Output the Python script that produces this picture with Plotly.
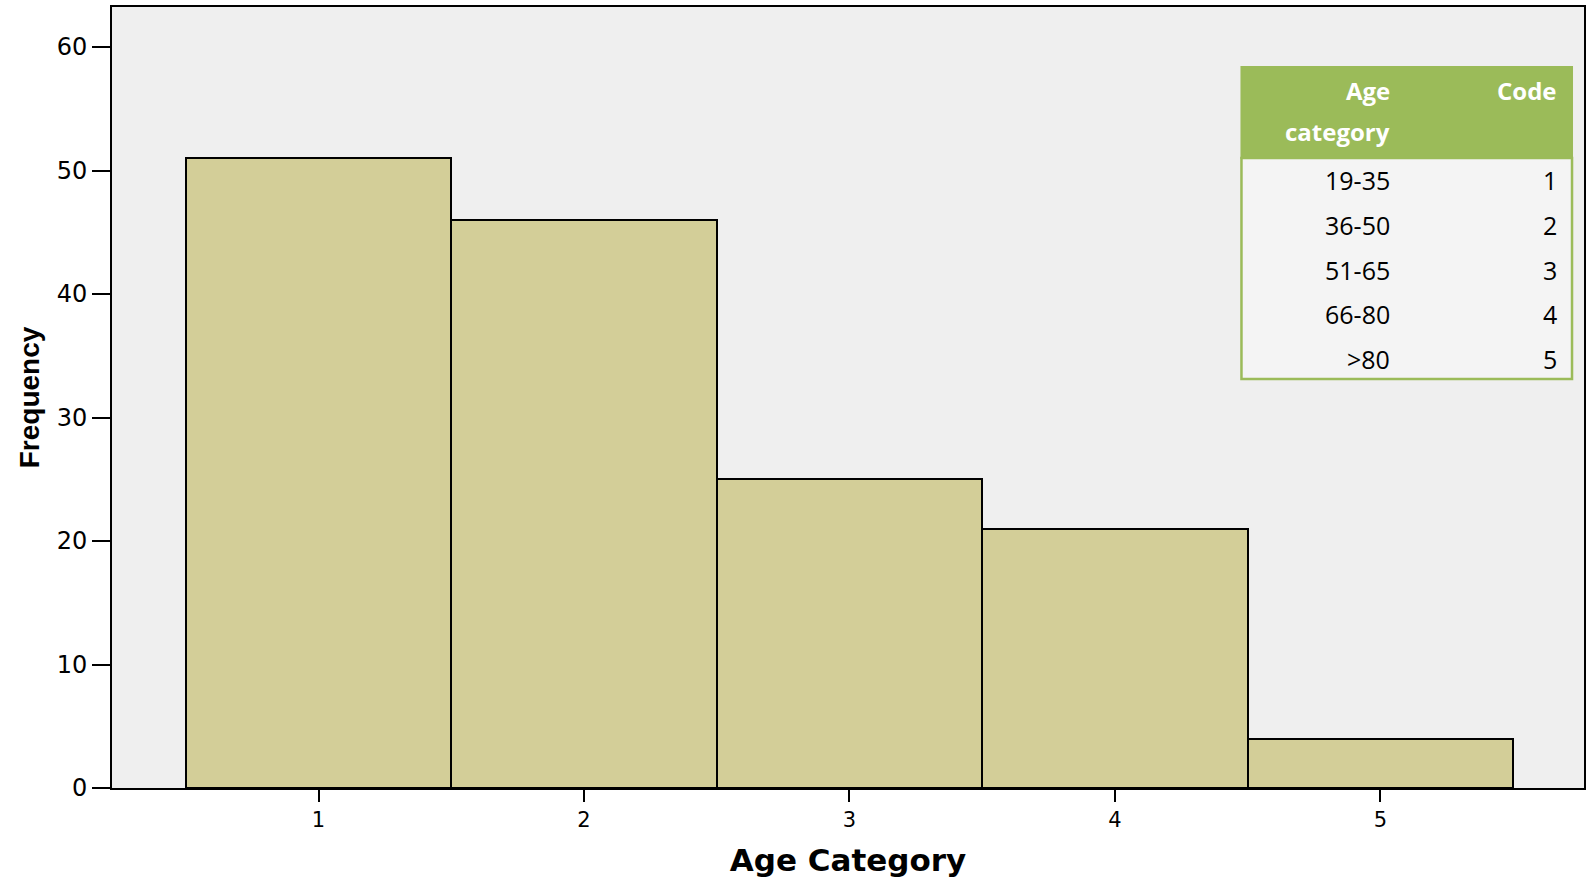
import plotly.graph_objects as go

codes = [1, 2, 3, 4, 5]
frequency = [51, 46, 25, 21, 4]
age_ranges = ["19-35", "36-50", "51-65", "66-80", ">80"]
table_header = ["Age", "category"]
code_header = "Code"
y_ticks = [0, 10, 20, 30, 40, 50, 60]

W, H = 1589, 878
ml, mr, mt, mb = 112, 3, 7, 90
pw, ph = W - ml - mr, H - mt - mb

def px_x(p):
    return (p - ml) / pw

def px_y(p):
    return (H - mb - p) / ph

fig = go.Figure()
fig.add_trace(go.Bar(
    x=codes, y=frequency, width=1,
    marker=dict(color="#d3ce98", line=dict(color="black", width=2)),
    showlegend=False, hoverinfo="x+y"))

# ---- inset table (Age category -> Code) ----
green = "#9bbb59"
tx0, tx1, ty0, ty_h, ty1 = 1243, 1574, 67, 158, 379
col1_right, col2_right = 1394, 1561
shapes = [
    dict(type="rect", xref="paper", yref="paper", layer="above",
         x0=px_x(tx0), x1=px_x(tx1), y0=px_y(ty1), y1=px_y(ty_h),
         fillcolor="#f4f4f4", line=dict(color=green, width=2.5)),
    dict(type="rect", xref="paper", yref="paper", layer="above",
         x0=px_x(tx0), x1=px_x(tx1), y0=px_y(ty_h), y1=px_y(ty0),
         fillcolor=green, line=dict(color=green, width=2)),
]
annotations = []
tfont = dict(family="Open Sans", size=25, color="black")
hfont = dict(family="Open Sans", size=24, color="white", weight="bold")
for txt, yc in zip(table_header, [90, 131]):
    annotations.append(dict(text=txt, x=px_x(col1_right), y=px_y(yc), xref="paper", yref="paper",
                            xanchor="right", yanchor="middle", showarrow=False, font=hfont))
annotations.append(dict(text=code_header, x=px_x(col2_right), y=px_y(90), xref="paper", yref="paper",
                        xanchor="right", yanchor="middle", showarrow=False, font=hfont))
for i, (rng, c) in enumerate(zip(age_ranges, codes)):
    yc = 180 + i * 44.8
    annotations.append(dict(text=rng.replace(">", "&gt;"), x=px_x(col1_right), y=px_y(yc),
                            xref="paper", yref="paper", xanchor="right", yanchor="middle",
                            showarrow=False, font=tfont))
    annotations.append(dict(text=str(c), x=px_x(col2_right), y=px_y(yc),
                            xref="paper", yref="paper", xanchor="right", yanchor="middle",
                            showarrow=False, font=tfont))

fig.update_layout(
    width=W, height=H,
    margin=dict(l=ml, r=mr, t=mt, b=mb),
    paper_bgcolor="white", plot_bgcolor="#efefef",
    bargap=0,
    font=dict(family="DejaVu Sans", color="black"),
    shapes=shapes, annotations=annotations,
    xaxis=dict(range=[0.222, 5.767], tickvals=codes, ticks="outside", ticklen=12,
               tickwidth=2, tickcolor="black", showgrid=False, zeroline=False,
               showline=True, linecolor="black", linewidth=2, mirror=True,
               tickfont=dict(size=21),
               title=dict(text="<b>Age Category</b>", font=dict(size=31), standoff=18)),
    yaxis=dict(range=[0, 63.24], tickvals=y_ticks, ticks="outside", ticklen=18,
               tickwidth=2, tickcolor="black", showgrid=False, zeroline=False,
               showline=True, linecolor="black", linewidth=2, mirror=True,
               tickfont=dict(size=24),
               title=dict(text="<b>Frequency</b>",
                          font=dict(size=28, family="Liberation Sans"), standoff=9)),
)

post = ("var s=document.createElement('style');"
        "s.textContent='html,body{margin:0;padding:0;overflow:hidden;}';"
        "document.head.appendChild(s);")
fig.write_html("out.html", config={"displayModeBar": False}, post_script=post)
